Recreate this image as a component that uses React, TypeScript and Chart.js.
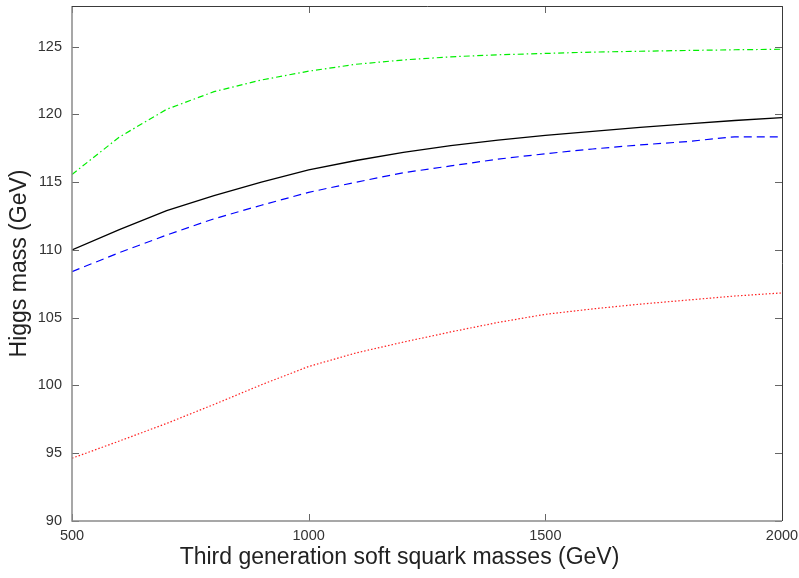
import React, { useEffect, useRef } from "react";
import { Chart, registerables } from "chart.js";

Chart.register(...registerables);

const masses = [500, 600, 700, 800, 900, 1000, 1100, 1200, 1300, 1400, 1500, 1600, 1700, 1800, 1900, 2000];
const greenSeries = [115.57, 118.33, 120.38, 121.68, 122.54, 123.19, 123.7, 124.02, 124.25, 124.4, 124.5, 124.6, 124.66, 124.72, 124.77, 124.81];
const blackSeries = [110.0, 111.5, 112.9, 114.0, 115.0, 115.9, 116.6, 117.2, 117.7, 118.1, 118.45, 118.75, 119.05, 119.3, 119.55, 119.77];
const blueSeries = [108.4, 109.8, 111.1, 112.3, 113.3, 114.25, 115.0, 115.7, 116.2, 116.7, 117.1, 117.45, 117.75, 118.0, 118.35, 118.35];
const redSeries = [94.63, 95.9, 97.2, 98.6, 100.05, 101.4, 102.4, 103.2, 103.95, 104.65, 105.25, 105.65, 106.0, 106.3, 106.6, 106.83];

const xTicks = [500, 1000, 1500, 2000];
const yTicks = [90, 95, 100, 105, 110, 115, 120, 125];

const FONT = "'Liberation Sans', Arial, Helvetica, sans-serif";
const TITLE_SIZE = 23;
const TITLE_BOTTOM_PAD = 7;

const toPoints = (ys: number[]) => masses.map((m, i) => ({ x: m, y: ys[i] }));

const frameTicks = {
  id: "frameTicks",
  afterDatasetsDraw(chart: any) {
    const { ctx, chartArea } = chart;
    const { left, right, top, bottom } = chartArea;
    const xs = chart.scales.x;
    const ys = chart.scales.y;
    const len = 7;
    ctx.save();
    ctx.lineWidth = 1;
    ctx.strokeStyle = "#666666";
    ctx.beginPath();
    yTicks.forEach((v) => {
      const py = Math.round(ys.getPixelForValue(v)) + 0.5;
      ctx.moveTo(left, py);
      ctx.lineTo(left + len, py);
      ctx.moveTo(right, py);
      ctx.lineTo(right - len, py);
    });
    xTicks.forEach((v) => {
      const px = Math.round(xs.getPixelForValue(v)) + 0.5;
      ctx.moveTo(px, bottom);
      ctx.lineTo(px, bottom - len);
      ctx.moveTo(px, top);
      ctx.lineTo(px, top + len);
    });
    ctx.stroke();
    ctx.lineWidth = 1.5;
    ctx.strokeStyle = "#8a8a8a";
    ctx.beginPath();
    ctx.moveTo(left, top);
    ctx.lineTo(left, bottom);
    ctx.lineTo(right, bottom);
    ctx.stroke();
    ctx.lineWidth = 1;
    ctx.strokeStyle = "#3a3a3a";
    ctx.beginPath();
    ctx.moveTo(left, top + 0.5);
    ctx.lineTo(right + 0.5, top + 0.5);
    ctx.lineTo(right + 0.5, bottom);
    ctx.stroke();
    ctx.restore();
  },
};

export default function App() {
  const ref = useRef<HTMLCanvasElement | null>(null);

  useEffect(() => {
    if (!ref.current) return;
    const chart = new Chart(ref.current, {
      type: "line",
      data: {
        datasets: [
          {
            label: "green",
            data: toPoints(greenSeries),
            borderColor: "#00ee00",
            borderWidth: 1.2,
            borderDash: [6, 3, 1.5, 3],
            pointRadius: 0,
            tension: 0,
            fill: false,
          },
          {
            label: "black",
            data: toPoints(blackSeries),
            borderColor: "#000000",
            borderWidth: 1.3,
            pointRadius: 0,
            tension: 0,
            fill: false,
          },
          {
            label: "blue",
            data: toPoints(blueSeries),
            borderColor: "#0000ff",
            borderWidth: 1.2,
            borderDash: [8, 5],
            pointRadius: 0,
            tension: 0,
            fill: false,
          },
          {
            label: "red",
            data: toPoints(redSeries),
            borderColor: "#ff2020",
            borderWidth: 1.2,
            borderDash: [1.5, 2],
            pointRadius: 0,
            tension: 0,
            fill: false,
          },
        ],
      },
      options: {
        animation: false,
        responsive: true,
        maintainAspectRatio: false,
        layout: { padding: { top: 6, right: 0, left: 0, bottom: 0 } },
        plugins: {
          legend: { display: false },
          tooltip: { enabled: false },
          title: {
            display: true,
            position: "bottom",
            align: "center",
            fullSize: true,
            text: "Third generation soft squark masses (GeV)",
            color: "#222222",
            font: { family: FONT, size: TITLE_SIZE, weight: "normal" },
            padding: { top: 0, bottom: TITLE_BOTTOM_PAD },
          },
        },
        scales: {
          x: {
            type: "linear",
            min: 500,
            max: 2000,
            afterBuildTicks: (s: any) => {
              s.ticks = xTicks.map((v) => ({ value: v }));
            },
            afterFit: (s: any) => {
              s.height = 57 - (TITLE_SIZE * 1.2 + TITLE_BOTTOM_PAD);
              s.paddingLeft = 0;
              s.paddingRight = 17;
            },
            grid: { display: false, drawTicks: false },
            border: { display: false },
            ticks: {
              padding: 6,
              color: "#333333",
              font: { family: FONT, size: 14.5 },
              maxRotation: 0,
              callback: (v: any) => String(v),
            },
          },
          y: {
            type: "linear",
            min: 90,
            max: 128,
            afterBuildTicks: (s: any) => {
              s.ticks = yTicks.map((v) => ({ value: v }));
            },
            afterFit: (s: any) => {
              s.width = 72;
              s.paddingTop = 0;
              s.paddingBottom = 0;
            },
            grid: { display: false, drawTicks: false },
            border: { display: false },
            ticks: {
              padding: 10,
              color: "#333333",
              font: { family: FONT, size: 14.5 },
              callback: (v: any) => String(v),
            },
            title: {
              display: true,
              text: "Higgs mass (GeV)",
              color: "#222222",
              font: { family: FONT, size: TITLE_SIZE },
              padding: { top: 6, bottom: 0 },
            },
          },
        },
      },
      plugins: [frameTicks],
    });
    return () => chart.destroy();
  }, []);

  return (
    <div style={{ position: "absolute", left: 0, top: 0, width: 799, height: 578, background: "#fff" }}>
      <canvas ref={ref} />
    </div>
  );
}
